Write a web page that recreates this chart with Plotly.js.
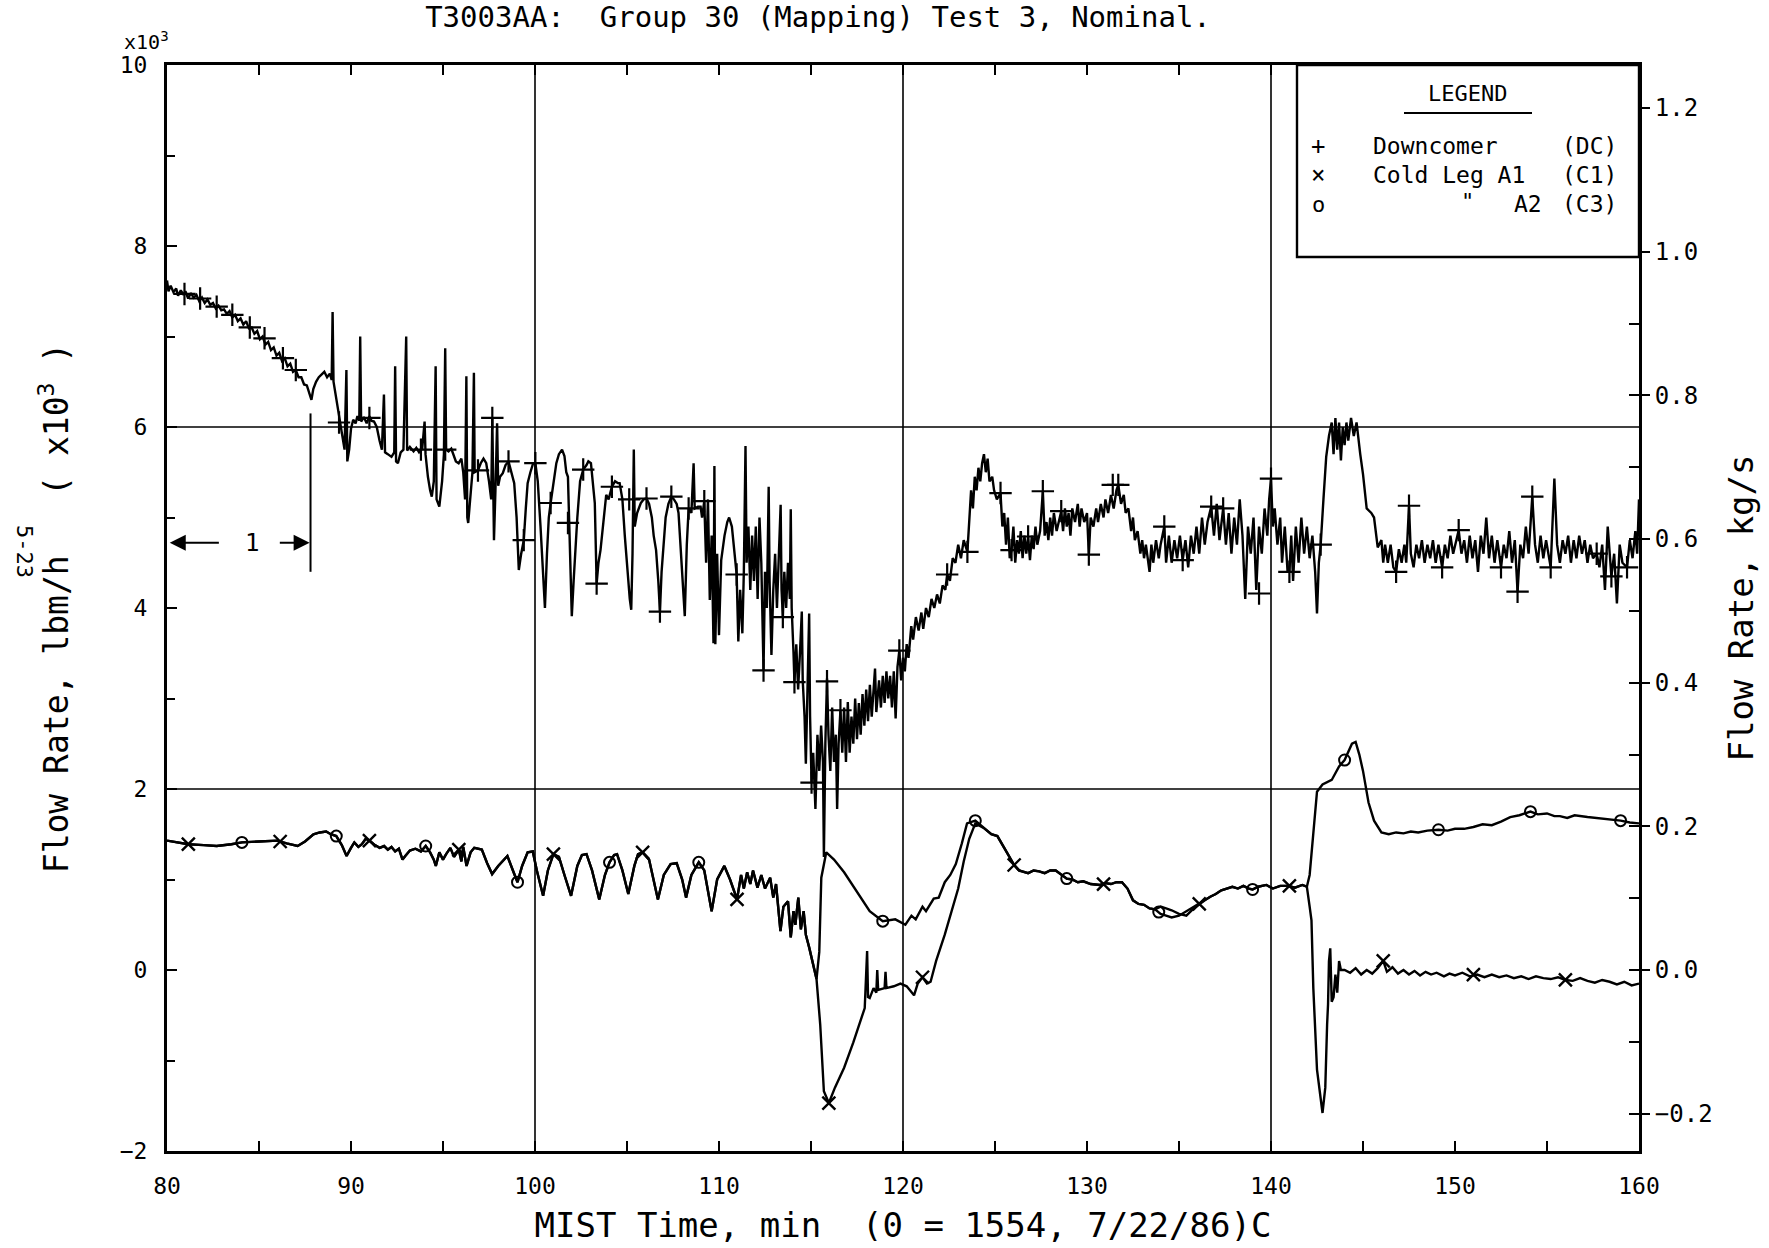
<!DOCTYPE html>
<html>
<head>
<meta charset="utf-8">
<script src="https://cdn.plot.ly/plotly-3.0.1.min.js"></script>
<style>html,body{margin:0;padding:0;background:#fff;}#chart{width:1769px;height:1248px;}</style>
</head>
<body>
<div id="chart"></div>
<script>
// ---------------- DATA (time in min, flow in lbm/h x 10^3) ----------------
const DC_POINTS = [
[80.0,7.62],[80.08,7.5],[80.2,7.56],[80.35,7.49],[80.5,7.53],[80.6,7.45],[80.75,7.51],[80.9,7.46],[81.0,7.5],[81.15,7.42],[81.3,7.48],[81.45,7.43],[81.6,7.46],[81.75,7.39],[81.9,7.43],[82.05,7.37],[82.2,7.41],[82.35,7.35],[82.5,7.37],[82.65,7.31],[82.8,7.34],[82.95,7.29],[83.1,7.3],[83.25,7.25],[83.4,7.28],[83.55,7.21],[83.7,7.24],[83.85,7.17],[84.0,7.2],[84.15,7.13],[84.3,7.17],[84.45,7.09],[84.6,7.1],[84.75,7.03],[84.9,7.06],[85.05,6.97],[85.2,7.0],[85.35,6.91],[85.5,6.94],[85.65,6.85],[85.8,6.88],[85.95,6.79],[86.1,6.82],[86.25,6.73],[86.4,6.76],[86.55,6.67],[86.7,6.7],[86.85,6.61],[87.0,6.63],[87.15,6.55],[87.3,6.55],[87.45,6.47],[87.6,6.46],[87.75,6.37],[87.85,6.3],[87.95,6.42],[88.1,6.5],[88.25,6.55],[88.4,6.58],[88.55,6.61],[88.7,6.55],[88.85,6.59],[88.95,6.52],[89.0,7.27],[89.05,6.5],[89.2,6.3],[89.35,6.1],[89.5,5.95],[89.65,5.75],[89.75,6.63],[89.8,5.62],[89.9,5.75],[90.0,5.98],[90.12,6.08],[90.25,6.04],[90.35,6.12],[90.45,6.07],[90.5,7.0],[90.55,6.06],[90.7,6.11],[90.85,6.04],[91.0,6.12],[91.1,6.07],[91.25,6.06],[91.4,6.0],[91.55,5.85],[91.68,5.75],[91.79,6.36],[91.85,5.72],[92.0,5.7],[92.2,5.67],[92.35,5.72],[92.4,6.67],[92.45,5.62],[92.55,5.6],[92.7,5.72],[92.85,5.75],[93.0,7.0],[93.05,5.74],[93.2,5.78],[93.4,5.73],[93.55,5.77],[93.7,5.72],[93.87,5.76],[94.0,6.06],[94.05,5.7],[94.18,5.45],[94.3,5.3],[94.39,5.23],[94.5,5.4],[94.6,6.67],[94.65,5.2],[94.8,5.12],[94.95,5.4],[95.05,5.7],[95.12,6.87],[95.17,5.75],[95.3,5.73],[95.45,5.76],[95.54,5.71],[95.7,5.62],[95.85,5.6],[96.0,5.65],[96.1,5.5],[96.2,5.2],[96.27,6.56],[96.32,5.0],[96.37,4.94],[96.5,5.3],[96.6,5.5],[96.68,6.6],[96.72,5.5],[96.9,5.52],[97.05,5.6],[97.2,5.65],[97.35,5.6],[97.5,5.4],[97.62,5.2],[97.68,6.1],[97.73,4.9],[97.77,4.75],[97.85,5.3],[97.94,6.04],[98.0,5.35],[98.1,5.45],[98.25,5.49],[98.4,5.58],[98.56,5.62],[98.7,5.5],[98.87,5.38],[99.0,5.0],[99.12,4.42],[99.25,4.6],[99.39,4.75],[99.5,5.1],[99.6,5.38],[99.75,5.5],[99.9,5.6],[100.02,5.6],[100.15,5.4],[100.3,4.9],[100.45,4.3],[100.54,4.0],[100.65,4.6],[100.75,5.0],[100.85,5.16],[101.0,5.4],[101.16,5.6],[101.3,5.7],[101.47,5.75],[101.6,5.68],[101.7,5.5],[101.79,5.45],[101.85,5.0],[101.92,4.4],[102.0,3.91],[102.1,4.3],[102.2,4.7],[102.3,5.0],[102.45,5.4],[102.62,5.53],[102.8,5.58],[102.9,5.62],[103.04,5.6],[103.15,5.4],[103.25,5.16],[103.35,4.27],[103.45,4.5],[103.56,4.64],[103.7,4.9],[103.8,5.1],[103.87,5.25],[104.0,5.2],[104.18,5.34],[104.35,5.4],[104.5,5.38],[104.6,5.38],[104.75,5.2],[104.88,4.8],[105.02,4.42],[105.15,4.1],[105.23,3.98],[105.3,4.6],[105.37,5.75],[105.42,4.9],[105.55,5.05],[105.75,5.16],[105.9,5.2],[106.06,5.21],[106.2,5.15],[106.35,5.0],[106.45,4.8],[106.58,4.64],[106.7,4.3],[106.79,3.96],[106.88,4.4],[107.0,4.8],[107.1,5.0],[107.25,5.15],[107.41,5.23],[107.55,5.2],[107.7,5.15],[107.8,5.05],[107.93,4.6],[108.05,4.1],[108.14,3.91],[108.25,4.7],[108.35,5.1],[108.5,5.05],[108.62,5.6],[108.68,5.1],[108.85,5.12],[109.0,5.12],[109.08,5.0],[109.2,5.18],[109.3,4.5],[109.4,5.2],[109.5,4.09],[109.6,4.8],[109.7,3.61],[109.75,5.57],[109.8,3.6],[109.9,4.6],[110.0,3.7],[110.12,4.53],[110.3,4.8],[110.45,4.95],[110.55,5.0],[110.7,4.9],[110.85,4.6],[110.96,4.37],[111.05,3.63],[111.15,4.2],[111.27,3.72],[111.35,4.4],[111.44,5.79],[111.5,4.5],[111.6,4.9],[111.7,4.2],[111.8,4.8],[111.9,4.3],[112.0,4.9],[112.1,4.1],[112.2,5.0],[112.3,4.5],[112.42,3.31],[112.5,4.4],[112.6,4.0],[112.7,5.34],[112.75,4.3],[112.85,3.48],[112.95,4.2],[113.05,4.6],[113.15,4.0],[113.25,4.5],[113.35,5.14],[113.4,4.2],[113.47,3.9],[113.55,4.4],[113.65,4.0],[113.75,4.5],[113.85,4.1],[113.9,5.09],[113.95,4.0],[114.05,3.5],[114.1,3.18],[114.2,3.6],[114.3,3.1],[114.4,3.5],[114.5,3.96],[114.55,3.2],[114.65,2.8],[114.72,2.28],[114.8,3.0],[114.9,3.94],[114.95,2.8],[115.03,2.07],[115.12,2.4],[115.24,1.78],[115.35,2.6],[115.45,2.2],[115.55,2.7],[115.65,2.3],[115.7,1.25],[115.78,2.5],[115.87,3.22],[115.95,2.6],[116.05,2.2],[116.15,2.9],[116.25,2.3],[116.35,2.6],[116.42,1.78],[116.5,2.5],[116.6,2.87],[116.7,2.4],[116.8,2.9],[116.9,2.3],[117.0,2.96],[117.1,2.4],[117.2,2.8],[117.3,2.5],[117.4,3.0],[117.5,2.55],[117.6,2.95],[117.7,2.6],[117.8,3.05],[117.9,2.7],[118.0,3.1],[118.1,2.75],[118.2,3.15],[118.3,2.8],[118.48,3.33],[118.55,2.85],[118.7,3.2],[118.8,2.9],[118.9,3.25],[119.0,2.95],[119.1,3.3],[119.2,3.0],[119.3,3.25],[119.4,2.9],[119.5,3.3],[119.6,2.78],[119.7,3.35],[119.8,3.53],[119.9,3.2],[120.0,3.45],[120.1,3.3],[120.2,3.6],[120.3,3.45],[120.45,3.8],[120.55,3.65],[120.7,3.9],[120.85,3.75],[121.0,3.95],[121.1,3.77],[121.25,4.0],[121.4,3.9],[121.55,4.1],[121.7,4.0],[121.85,4.15],[122.0,4.05],[122.15,4.25],[122.3,4.2],[122.4,4.37],[122.55,4.3],[122.7,4.55],[122.85,4.5],[123.0,4.7],[123.15,4.55],[123.3,4.75],[123.5,4.62],[123.6,5.0],[123.7,5.3],[123.8,5.1],[123.9,5.45],[124.0,5.3],[124.1,5.55],[124.2,5.4],[124.3,5.6],[124.4,5.7],[124.5,5.5],[124.6,5.65],[124.7,5.4],[124.85,5.45],[124.95,5.3],[125.1,5.2],[125.3,5.27],[125.4,4.9],[125.5,5.05],[125.6,4.7],[125.7,5.0],[125.8,4.55],[125.9,4.64],[126.0,4.9],[126.1,4.5],[126.2,4.75],[126.3,4.6],[126.4,4.85],[126.5,4.55],[126.6,4.8],[126.7,4.6],[126.8,4.79],[126.9,4.53],[127.0,4.8],[127.1,4.65],[127.2,4.9],[127.3,4.7],[127.45,4.85],[127.6,5.29],[127.7,4.8],[127.8,4.95],[127.9,4.75],[128.0,5.0],[128.1,4.8],[128.2,5.05],[128.35,4.85],[128.5,5.0],[128.6,5.07],[128.7,4.85],[128.8,5.1],[128.9,4.9],[129.0,5.05],[129.1,4.8],[129.2,5.1],[129.35,4.95],[129.5,5.15],[129.6,4.9],[129.7,5.1],[129.85,4.95],[130.0,5.05],[130.1,4.59],[130.2,5.0],[130.35,4.9],[130.5,5.1],[130.6,4.95],[130.75,5.15],[130.9,5.0],[131.0,5.2],[131.15,5.05],[131.3,5.25],[131.45,5.1],[131.6,5.3],[131.7,5.36],[131.85,5.15],[132.0,5.25],[132.1,5.05],[132.25,5.1],[132.4,4.85],[132.5,5.0],[132.6,4.75],[132.75,4.85],[132.9,4.6],[133.0,4.75],[133.1,4.55],[133.2,4.7],[133.4,4.4],[133.5,4.7],[133.6,4.5],[133.75,4.75],[133.9,4.55],[134.0,4.7],[134.2,4.9],[134.3,4.5],[134.45,4.8],[134.6,4.5],[134.75,4.75],[134.9,4.55],[135.05,4.8],[135.2,4.53],[135.35,4.75],[135.5,4.45],[135.65,4.8],[135.8,4.6],[135.95,4.9],[136.1,4.6],[136.25,5.0],[136.4,4.7],[136.55,4.95],[136.75,5.12],[136.9,4.8],[137.05,5.15],[137.2,4.75],[137.4,5.1],[137.55,4.7],[137.7,5.05],[137.85,4.6],[138.0,5.0],[138.15,4.7],[138.3,5.2],[138.45,4.8],[138.6,4.1],[138.75,4.9],[138.9,4.6],[139.05,5.0],[139.2,4.2],[139.35,4.9],[139.5,4.6],[139.65,5.1],[139.8,4.8],[139.9,5.2],[140.0,5.43],[140.1,4.9],[140.2,5.1],[140.35,4.7],[140.5,5.0],[140.6,4.5],[140.75,4.9],[140.9,4.4],[141.0,4.4],[141.1,4.8],[141.2,4.3],[141.35,4.9],[141.5,4.5],[141.65,5.0],[141.8,4.6],[141.95,4.9],[142.1,4.55],[142.25,4.8],[142.4,4.4],[142.5,3.94],[142.6,4.5],[142.7,4.7],[142.85,5.2],[143.0,5.67],[143.15,5.9],[143.3,6.05],[143.4,5.7],[143.5,6.1],[143.6,5.75],[143.7,6.05],[143.8,5.63],[143.9,6.0],[144.0,5.8],[144.1,6.05],[144.2,5.85],[144.35,6.1],[144.5,5.9],[144.65,6.05],[144.85,5.7],[145.0,5.48],[145.2,5.1],[145.45,5.05],[145.6,5.0],[145.8,4.67],[146.0,4.75],[146.1,4.5],[146.2,4.7],[146.35,4.5],[146.5,4.7],[146.65,4.45],[146.8,4.4],[146.95,4.65],[147.1,4.5],[147.25,4.7],[147.35,4.5],[147.5,5.13],[147.6,4.6],[147.75,4.45],[147.9,4.7],[148.05,4.55],[148.2,4.75],[148.35,4.5],[148.5,4.7],[148.65,4.55],[148.8,4.75],[148.95,4.5],[149.1,4.7],[149.3,4.45],[149.45,4.7],[149.6,4.55],[149.75,4.8],[149.9,4.6],[150.2,4.86],[150.35,4.6],[150.5,4.75],[150.65,4.5],[150.8,4.8],[150.95,4.55],[151.1,4.75],[151.25,4.4],[151.4,4.8],[151.55,4.6],[151.7,5.0],[151.85,4.55],[152.0,4.8],[152.15,4.5],[152.3,4.75],[152.5,4.45],[152.65,4.7],[152.8,4.55],[152.95,4.85],[153.1,4.5],[153.25,4.75],[153.4,4.18],[153.55,4.7],[153.7,4.55],[153.85,4.9],[154.0,4.6],[154.2,5.23],[154.35,4.7],[154.5,4.5],[154.65,4.8],[154.8,4.55],[154.95,4.75],[155.2,4.45],[155.4,5.43],[155.55,4.7],[155.7,4.5],[155.85,4.75],[156.0,4.6],[156.15,4.8],[156.3,4.5],[156.45,4.75],[156.6,4.55],[156.75,4.8],[156.9,4.6],[157.05,4.75],[157.2,4.5],[157.35,4.7],[157.5,4.55],[157.7,4.6],[157.85,4.45],[158.0,4.7],[158.15,4.2],[158.3,4.9],[158.5,4.35],[158.65,4.6],[158.8,4.05],[158.95,4.7],[159.1,4.5],[159.35,4.45],[159.5,4.75],[159.65,4.55],[159.8,4.85],[159.9,4.6],[160.0,5.2]
];
const DC_MARKS = [
[80.95,7.47],[81.8,7.42],[82.7,7.33],[83.55,7.24],[84.5,7.1],[85.3,6.98],[86.3,6.76],[87.0,6.63],[89.35,6.05],[91.0,6.1],[93.8,5.75],[95.12,5.75],[96.9,5.52],[97.68,6.1],[98.56,5.62],[99.39,4.75],[100.02,5.6],[100.85,5.16],[101.79,4.94],[102.62,5.53],[103.35,4.27],[104.18,5.34],[105.12,5.2],[106.06,5.21],[106.79,3.96],[107.41,5.23],[108.35,5.1],[109.2,5.18],[110.96,4.37],[112.42,3.31],[113.47,3.9],[114.1,3.18],[115.03,2.07],[115.87,3.19],[116.6,2.87],[119.8,3.53],[122.4,4.37],[123.5,4.62],[125.3,5.27],[125.9,4.64],[126.8,4.79],[127.6,5.29],[128.6,5.07],[130.1,4.59],[131.4,5.36],[131.7,5.36],[134.2,4.9],[135.2,4.53],[136.75,5.12],[137.4,5.1],[139.35,4.16],[140.0,5.43],[141.0,4.4],[142.7,4.7],[146.8,4.4],[147.5,5.13],[149.3,4.45],[150.2,4.86],[152.5,4.45],[153.4,4.18],[154.2,5.23],[155.2,4.45],[157.7,4.6],[158.5,4.35],[159.35,4.45]
];
// Cold legs A1 (C1) and A2 (C3): read separately; they overlap where curves coincide
const CL_SHARED_A = [
[80.0,1.43],[80.5,1.41],[81.16,1.39],[82.0,1.38],[82.7,1.37],[83.5,1.39],[84.07,1.41],[85.0,1.42],[86.0,1.43],[86.5,1.4],[87.1,1.37],[87.5,1.42],[87.96,1.5],[88.3,1.52],[88.65,1.53],[88.9,1.5],[89.2,1.48],[89.5,1.38],[89.76,1.26],[90.0,1.35],[90.18,1.41],[90.4,1.36],[90.59,1.39],[90.8,1.45],[91.0,1.43],[91.3,1.38],[91.56,1.35],[91.8,1.37],[92.0,1.33],[92.2,1.36],[92.4,1.31],[92.6,1.34],[92.8,1.22],[92.95,1.26],[93.2,1.32],[93.5,1.34],[93.8,1.31],[94.06,1.37],[94.3,1.3],[94.5,1.22],[94.61,1.15],[94.8,1.3],[95.0,1.22],[95.17,1.28],[95.4,1.35],[95.6,1.25],[95.86,1.33],[96.0,1.2],[96.1,1.36],[96.28,1.15],[96.5,1.3],[96.7,1.35],[97.11,1.33],[97.4,1.18],[97.67,1.06],[98.0,1.15],[98.3,1.22],[98.5,1.26],[98.8,1.1],[99.05,0.97],[99.3,1.15],[99.6,1.3],[99.88,1.31],[100.1,1.1],[100.44,0.82],[100.7,1.1],[101.0,1.28],[101.3,1.25],[101.6,1.05],[101.96,0.82],[102.3,1.15],[102.55,1.27],[102.8,1.28],[103.1,1.1],[103.49,0.78],[103.8,1.05],[104.05,1.19],[104.3,1.27],[104.46,1.28],[104.75,1.1],[105.07,0.84],[105.4,1.15],[105.6,1.28],[105.85,1.3],[106.2,1.22],[106.68,0.78],[107.0,1.05],[107.37,1.17],[107.7,1.18],[108.0,1.0],[108.21,0.8],[108.5,1.05],[108.9,1.19],[109.2,1.1],[109.6,0.65],[109.9,1.0],[110.29,1.15],[110.6,1.0],[110.98,0.78],[111.2,1.05],[111.35,0.9],[111.53,1.08],[111.7,0.95],[111.85,1.1],[112.09,0.91],[112.3,1.05],[112.5,0.9],[112.78,1.02],[112.95,0.8],[113.1,0.95],[113.34,0.43],[113.5,0.7],[113.75,0.76],[113.9,0.36],[114.05,0.65],[114.15,0.5],[114.31,0.8],[114.45,0.45],[114.6,0.65],[114.72,0.39],[114.9,0.25],[115.14,0.03],[115.3,-0.1]
];
const C1_DIVERGE_A = [
[115.5,-0.6],[115.7,-1.34],[115.97,-1.47],[116.3,-1.3],[116.8,-1.08],[117.3,-0.8],[117.92,-0.42],[118.05,0.21],[118.1,-0.3],[118.19,-0.31],[118.4,-0.2],[118.55,-0.25],[118.6,0.0],[118.65,-0.22],[119.0,-0.2],[119.05,-0.02],[119.1,-0.2],[119.5,-0.18],[119.86,-0.15],[120.2,-0.18],[120.6,-0.28],[120.8,-0.15],[121.06,-0.08],[121.3,-0.15],[121.5,-0.13],[121.8,0.1],[122.27,0.39],[122.7,0.68],[123.0,0.9],[123.3,1.2],[123.6,1.45],[123.93,1.62]
];
const C3_DIVERGE_A = [
[115.45,0.2],[115.56,1.02],[115.83,1.3],[116.25,1.22],[116.8,1.08],[117.5,0.87],[118.19,0.65],[118.9,0.54],[119.58,0.56],[120.13,0.5],[120.46,0.6],[120.69,0.56],[121.06,0.7],[121.25,0.65],[121.67,0.79],[121.94,0.8],[122.27,0.97],[122.57,1.05],[122.87,1.17],[123.2,1.4],[123.48,1.62],[123.93,1.65]
];
const CL_SHARED_B = [
[124.38,1.57],[124.8,1.5],[125.13,1.48],[125.59,1.32],[126.04,1.16],[126.3,1.1],[126.49,1.09],[126.8,1.07],[127.1,1.1],[127.4,1.09],[127.7,1.07],[128.0,1.1],[128.3,1.1],[128.6,1.05],[128.9,1.01],[129.2,1.0],[129.5,0.97],[129.8,0.98],[130.2,0.95],[130.7,0.94],[131.0,0.96],[131.3,0.95],[131.6,0.97],[131.9,0.97],[132.2,0.9],[132.5,0.77],[132.8,0.73],[133.1,0.72],[133.4,0.68],[133.7,0.67]
];
const C1_EYE = [[134.0,0.7],[134.3,0.68],[134.6,0.66],[135.0,0.62],[135.4,0.6],[135.8,0.68]];
const C3_EYE = [[134.0,0.62],[134.3,0.6],[134.6,0.58],[135.0,0.6],[135.4,0.65],[135.8,0.7]];
const CL_SHARED_C = [
[136.1,0.73],[136.4,0.77],[136.7,0.81],[137.0,0.84],[137.3,0.88],[137.6,0.9],[137.9,0.92],[138.2,0.9],[138.5,0.93],[138.8,0.9],[139.0,0.89],[139.3,0.92],[139.75,0.94],[140.1,0.9],[140.5,0.93],[140.96,0.93],[141.3,0.91],[141.7,0.94],[141.95,0.92]
];
const C1_TAIL = [
[142.1,0.7],[142.2,0.55],[142.3,-0.2],[142.5,-1.1],[142.8,-1.58],[142.95,-1.3],[143.05,-0.6],[143.1,-0.38],[143.15,0.1],[143.22,0.24],[143.3,-0.35],[143.4,-0.3],[143.5,-0.05],[143.6,-0.25],[143.7,0.1],[143.8,0.0],[144.0,0.0],[144.3,-0.03],[144.6,0.02],[144.9,-0.05],[145.2,0.0],[145.5,-0.04],[145.8,0.02],[146.1,0.1],[146.3,-0.02],[146.6,0.03],[146.9,-0.04],[147.2,0.0],[147.5,-0.05],[147.8,-0.01],[148.1,-0.06],[148.4,-0.02],[148.7,-0.05],[149.0,-0.03],[149.4,-0.07],[149.7,-0.04],[150.0,-0.06],[150.4,-0.03],[150.8,-0.07],[151.2,-0.05],[151.6,-0.08],[152.0,-0.05],[152.4,-0.08],[152.8,-0.06],[153.2,-0.09],[153.6,-0.07],[154.0,-0.1],[154.4,-0.07],[154.8,-0.09],[155.2,-0.1],[155.6,-0.08],[156.0,-0.11],[156.4,-0.12],[156.8,-0.09],[157.2,-0.12],[157.6,-0.14],[158.0,-0.11],[158.4,-0.13],[158.8,-0.16],[159.2,-0.13],[159.6,-0.17],[160.0,-0.15]
];
const C3_TAIL = [
[142.1,1.05],[142.2,1.28],[142.35,1.7],[142.5,1.97],[142.8,2.05],[143.3,2.1],[143.7,2.25],[144.0,2.32],[144.4,2.5],[144.6,2.52],[144.8,2.38],[145.0,2.2],[145.3,1.85],[145.6,1.65],[146.0,1.52],[146.4,1.5],[146.8,1.52],[147.2,1.51],[147.6,1.53],[148.0,1.52],[148.5,1.54],[149.1,1.55],[149.6,1.54],[150.0,1.56],[150.5,1.56],[151.0,1.58],[151.5,1.61],[152.0,1.6],[152.5,1.64],[153.0,1.69],[153.5,1.71],[154.1,1.75],[154.5,1.72],[155.0,1.73],[155.4,1.7],[155.7,1.7],[156.1,1.68],[156.5,1.71],[157.2,1.69],[157.7,1.68],[158.3,1.67],[159.0,1.65],[159.5,1.63],[160.0,1.62]
];
const C1_MARKS = [[81.16,1.39],[86.15,1.42],[91.0,1.43],[95.86,1.33],[101.0,1.28],[105.85,1.3],[110.98,0.78],[115.97,-1.47],[121.06,-0.08],[126.04,1.16],[130.9,0.95],[136.1,0.73],[141.0,0.93],[146.1,0.1],[151.0,-0.05],[156.0,-0.11]];
const C3_MARKS = [[84.07,1.41],[89.2,1.48],[94.06,1.37],[99.05,0.97],[104.05,1.19],[108.9,1.19],[118.9,0.54],[123.93,1.65],[128.9,1.01],[133.9,0.64],[139.0,0.89],[144.0,2.32],[149.1,1.55],[154.1,1.75],[159.0,1.65]];

const X_RANGE = [80, 160];
const Y_RANGE = [-2, 10];            // lbm/h x 10^3
const LBMH_PER_KGS = 7.93664;        // thousand lbm/h per kg/s
const GRID_TIME = [100, 120, 140];
const GRID_FLOW = [2, 6];
const SPAN_TIME = [80, 87.8];        // the "|<- 1 ->|" bracket
const SPAN_LEVEL = 4.72;
const SPAN_TICK = [4.4, 6.15];

// ---------------- helpers ----------------
const L = 167, R = 1639, T = 65, B = 1151, W = 1769, H = 1248;
const px = x => (x - L) / (R - L);
const py = y => 1 - (y - T) / (B - T);
const xs = a => a.map(p => p[0]);
const ys = a => a.map(p => p[1]);
const C1 = CL_SHARED_A.concat(C1_DIVERGE_A, CL_SHARED_B, C1_EYE, CL_SHARED_C, C1_TAIL);
const C3 = CL_SHARED_A.concat(C3_DIVERGE_A, CL_SHARED_B, C3_EYE, CL_SHARED_C, C3_TAIL);
const FONT = 'DejaVu Sans Mono, Liberation Mono, monospace';
const lineStyle = {color: 'black', width: 2.4};
const Y2_RANGE = [Y_RANGE[0] / LBMH_PER_KGS, Y_RANGE[1] / LBMH_PER_KGS];

const traces = [
  {x: xs(DC_POINTS), y: ys(DC_POINTS), mode: 'lines', line: lineStyle, name: 'Downcomer (DC)', hoverinfo: 'skip'},
  {x: xs(C1), y: ys(C1), mode: 'lines', line: lineStyle, name: 'Cold Leg A1 (C1)', hoverinfo: 'skip'},
  {x: xs(C3), y: ys(C3), mode: 'lines', line: lineStyle, name: 'Cold Leg A2 (C3)', hoverinfo: 'skip'},
  {x: xs(DC_MARKS), y: ys(DC_MARKS), mode: 'markers', marker: {symbol: 'cross-thin-open', size: 16, color: 'black', line: {color: 'black', width: 2.2}}, hoverinfo: 'skip'},
  {x: xs(C1_MARKS), y: ys(C1_MARKS), mode: 'markers', marker: {symbol: 'x-thin-open', size: 13, color: 'black', line: {color: 'black', width: 2.4}}, hoverinfo: 'skip'},
  {x: xs(C3_MARKS), y: ys(C3_MARKS), mode: 'markers', marker: {symbol: 'circle-open', size: 11, color: 'black', line: {color: 'black', width: 2}}, hoverinfo: 'skip'},
  // carrier for the kg/s axis (draws nothing)
  {x: X_RANGE, y: Y2_RANGE, yaxis: 'y2', mode: 'lines', line: {width: 0, color: 'rgba(0,0,0,0)'}, opacity: 0, hoverinfo: 'skip'}
];

const shapes = [];
GRID_TIME.forEach(t => shapes.push({type: 'line', xref: 'x', yref: 'paper', x0: t, x1: t, y0: 0, y1: 1, line: {color: 'black', width: 1.6}}));
GRID_FLOW.forEach(f => shapes.push({type: 'line', xref: 'paper', yref: 'y', x0: 0, x1: 1, y0: f, y1: f, line: {color: 'black', width: 1.6}}));
shapes.push({type: 'line', xref: 'x', yref: 'y', x0: SPAN_TIME[1], x1: SPAN_TIME[1], y0: SPAN_TICK[0], y1: SPAN_TICK[1], line: {color: 'black', width: 2}});
shapes.push({type: 'rect', xref: 'paper', yref: 'paper', x0: px(1297), x1: 1, y0: py(257), y1: 1, line: {color: 'black', width: 2.4}, fillcolor: 'white', layer: 'above'});
shapes.push({type: 'line', xref: 'paper', yref: 'paper', x0: px(1404), x1: px(1532), y0: py(113), y1: py(113), line: {color: 'black', width: 2}});

const ann = (x, y, text, size, extra) => Object.assign({xref: 'paper', yref: 'paper', x: px(x), y: py(y), text: text, showarrow: false, font: {family: FONT, size: size, color: 'black'}, xanchor: 'center', yanchor: 'middle'}, extra || {});

const annotations = [
  ann(1467, 93, 'LEGEND', 22),
  ann(1318, 146, '+', 24),
  ann(1371, 146, 'Downcomer', 23, {xanchor: 'left'}),
  ann(1560, 146, '(DC)', 23, {xanchor: 'left'}),
  ann(1318, 175, '\u00d7', 24),
  ann(1371, 175, 'Cold Leg A1', 23, {xanchor: 'left'}),
  ann(1560, 175, '(C1)', 23, {xanchor: 'left'}),
  ann(1318, 204, 'o', 22),
  ann(1467, 202, '"', 22),
  ann(1544, 204, 'A2', 23, {xanchor: 'right'}),
  ann(1560, 204, '(C3)', 23, {xanchor: 'left'}),
  ann(146, 41, 'x10<sup>3</sup>', 20),
  ann(25, 551, '5-23', 22, {textangle: 90}),
  {xref: 'x', yref: 'y', axref: 'x', ayref: 'y', x: SPAN_TIME[0] + 0.15, y: SPAN_LEVEL, ax: 82.9, ay: SPAN_LEVEL, text: '', showarrow: true, arrowhead: 2, arrowsize: 1.6, arrowwidth: 2, arrowcolor: 'black'},
  {xref: 'x', yref: 'y', axref: 'x', ayref: 'y', x: SPAN_TIME[1] - 0.05, y: SPAN_LEVEL, ax: 86.05, ay: SPAN_LEVEL, text: '', showarrow: true, arrowhead: 2, arrowsize: 1.6, arrowwidth: 2, arrowcolor: 'black'},
  {xref: 'x', yref: 'y', x: (SPAN_TIME[0] + SPAN_TIME[1]) / 2 + 0.7, y: SPAN_LEVEL, text: '1', showarrow: false, font: {family: FONT, size: 24, color: 'black'}}
];

const axisCommon = {
  showline: true, linecolor: 'black', linewidth: 3, showgrid: false, zeroline: false,
  tickcolor: 'black', tickwidth: 2, tickfont: {family: FONT, size: 23, color: 'black'}
};

const layout = {
  width: W, height: H,
  margin: {l: L, r: W - R, t: T, b: H - B, pad: 0},
  paper_bgcolor: 'white', plot_bgcolor: 'white',
  font: {family: FONT, color: 'black', size: 23},
  showlegend: false,
  title: {text: 'T3003AA:\u00a0\u00a0Group 30 (Mapping) Test 3, Nominal.', font: {family: FONT, size: 29, color: 'black'}, x: px(818), xref: 'paper', xanchor: 'center', y: 1 - 17 / H, yref: 'container', yanchor: 'middle'},
  xaxis: Object.assign({}, axisCommon, {
    range: X_RANGE, tick0: 80, dtick: 10, ticks: 'inside', ticklen: 10, mirror: 'ticks',
    minor: {dtick: 5, ticks: 'inside', ticklen: 10, tickwidth: 2, tickcolor: 'black'},
    ticklabelstandoff: 12,
    title: {text: 'MIST Time, min\u00a0\u00a0(0 = 1554, 7/22/86)C', font: {family: FONT, size: 34, color: 'black'}, standoff: 16}
  }),
  yaxis: Object.assign({}, axisCommon, {
    range: Y_RANGE, tick0: -2, dtick: 2, ticks: 'inside', ticklen: 10,
    ticklabelstandoff: 12,
    minor: {dtick: 1, ticks: 'inside', ticklen: 8, tickwidth: 2, tickcolor: 'black'},
    title: {text: 'Flow Rate,\u00a0lbm/h\u00a0\u00a0\u00a0(\u00a0x10<sup>3</sup>\u00a0)', font: {family: FONT, size: 33, color: 'black'}, standoff: 42}
  }),
  yaxis2: Object.assign({}, axisCommon, {
    overlaying: 'y', side: 'right', anchor: 'x',
    range: Y2_RANGE,
    tick0: 0, dtick: 0.2, tickformat: '.1f', ticks: 'outside', ticklen: 8,
    minor: {dtick: 0.1, ticks: 'inside', ticklen: 10, tickwidth: 2, tickcolor: 'black'},
    tickfont: {family: FONT, size: 24, color: 'black'},
    title: {text: 'Flow Rate,\u00a0kg/s', font: {family: FONT, size: 34, color: 'black'}, standoff: 18}
  }),
  shapes: shapes,
  annotations: annotations
};

Plotly.newPlot('chart', traces, layout, {staticPlot: true, displayModeBar: false});
</script>
</body>
</html>
